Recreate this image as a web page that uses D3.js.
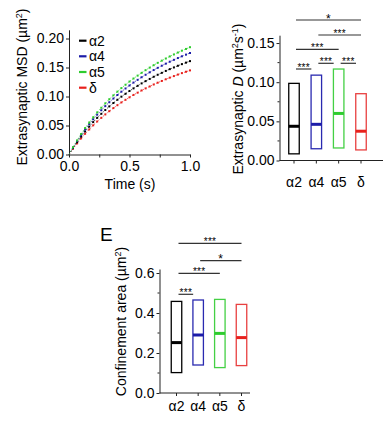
<!DOCTYPE html>
<html>
<head>
<meta charset="utf-8">
<script src="https://cdn.jsdelivr.net/npm/d3@7"></script>
<style>
  html, body { margin: 0; padding: 0; background: #fff; }
  svg { display: block; }
  text { font-family: "Liberation Sans", Arial, sans-serif; fill: #000; }
</style>
</head>
<body>
<script>
// ---------- DATA ----------
const seriesNames = ["α2", "α4", "α5", "δ"];
const seriesColors = ["#000000", "#1c1ca8", "#2ecc2e", "#e8201c"];
const boxColors = ["#000000", "#2a2ab0", "#44d044", "#e84040"];

const timeLags = [0, 0.033, 0.067, 0.1, 0.133, 0.167, 0.2, 0.233, 0.267, 0.3, 0.333,
  0.367, 0.4, 0.433, 0.467, 0.5, 0.533, 0.567, 0.6, 0.633, 0.667,
  0.7, 0.733, 0.767, 0.8, 0.833, 0.867, 0.9, 0.933, 0.967, 1.0];

const msdA2 = [0, .011, .0212, .0308, .0397, .048, .0559, .0632, .0702, .0767, .0829,
  .0888, .0944, .0997, .1047, .1095, .114, .1184, .1226, .1265, .1303,
  .134, .1375, .1408, .1441, .1472, .1501, .153, .1558, .1584, .161];
const msdA4 = [0, .012, .0231, .0334, .0431, .0522, .0607, .0687, .0763, .0834, .0901,
  .0965, .1026, .1083, .1138, .119, .124, .1287, .1332, .1375, .1417,
  .1456, .1494, .1531, .1566, .16, .1632, .1663, .1693, .1722, .175];
const msdA5 = [0, .0126, .0244, .0353, .0456, .0552, .0642, .0726, .0806, .0882, .0953,
  .102, .1084, .1145, .1203, .1258, .131, .136, .1408, .1454, .1498,
  .154, .158, .1618, .1655, .1691, .1725, .1758, .179, .182, .185];
const msdD = [0, .0099, .0191, .0277, .0357, .0432, .0503, .0569, .0632, .0691, .0747,
  .08, .085, .0898, .0943, .0986, .1027, .1066, .1104, .114, .1173,
  .1207, .1238, .1268, .1297, .1325, .1352, .1378, .1403, .1427, .145];

const msdTicksY = [0, 0.05, 0.10, 0.15, 0.20];
const msdTicksX = [0, 0.5, 1.0];

// Extrasynaptic D (µm²/s): floating bars min–max with median
const dMin = [0.0085, 0.0150, 0.0160, 0.0135];
const dMax = [0.0985, 0.1090, 0.1168, 0.0853];
const dMedian = [0.0437, 0.0462, 0.0601, 0.0374];
const dTicks = [0, 0.05, 0.10, 0.15];
const dSig = [
  { from: 0, to: 1, label: "***" },
  { from: 1, to: 2, label: "***" },
  { from: 2, to: 3, label: "***" },
  { from: 0, to: 2, label: "***" },
  { from: 1, to: 3, label: "***" },
  { from: 0, to: 3, label: "*" }
];

// Confinement area (µm²)
const areaMin = [0.102, 0.140, 0.127, 0.137];
const areaMax = [0.458, 0.465, 0.468, 0.443];
const areaMedian = [0.252, 0.290, 0.298, 0.277];
const areaTicks = [0, 0.2, 0.4, 0.6];
const areaSig = [
  { from: 0, to: 1, label: "***" },
  { from: 0, to: 2, label: "***" },
  { from: 1, to: 3, label: "*" },
  { from: 0, to: 3, label: "***" }
];

// ---------- DRAW ----------
const W = 392, H = 428;
const svg = d3.select("body").append("svg").attr("width", W).attr("height", H);
svg.append("rect").attr("width", W).attr("height", H).attr("fill", "#fff");

const FS = 14;
const axisColor = "#222";

function styleAxis(g) {
  g.selectAll("path.domain").attr("stroke", axisColor).attr("stroke-width", 1);
  g.selectAll(".tick line").attr("stroke", axisColor);
  g.selectAll(".tick text").attr("font-size", FS).attr("font-family", '"Liberation Sans", Arial, sans-serif').attr("fill", "#000");
}

// ===== Panel: MSD =====
(function () {
  const x = d3.scaleLinear().domain([0, 1]).range([69, 190]);
  const y = d3.scaleLinear().domain([0, 0.215]).range([154.5, 29.8]);

  const gy = svg.append("g").attr("transform", `translate(${x(0)},0)`)
    .call(d3.axisLeft(y).tickValues(msdTicksY).tickSize(3).tickPadding(2)
      .tickFormat(d3.format(".2f")).tickSizeOuter(0));
  styleAxis(gy);

  const gx = svg.append("g").attr("transform", `translate(0,${y(0)})`)
    .call(d3.axisBottom(x).tickValues([0, 0.25, 0.5, 0.75, 1]).tickSize(3).tickPadding(4)
      .tickFormat(d => msdTicksX.includes(d) ? d3.format(".1f")(d) : "").tickSizeOuter(0));
  styleAxis(gx);

  const all = [msdA2, msdA4, msdA5, msdD];
  const order = [3, 0, 1, 2];
  order.forEach(i => {
    const pts = timeLags.map((t, k) => [t, all[i][k]]);
    svg.append("path")
      .attr("d", d3.line().x(d => x(d[0])).y(d => y(d[1]))(pts))
      .attr("fill", "none").attr("stroke", seriesColors[i]).attr("stroke-width", 0.7)
      .attr("stroke-dasharray", "1.5,1.5");
    svg.append("g").selectAll("rect").data(pts.slice(1)).join("rect")
      .attr("x", d => x(d[0]) - 1).attr("y", d => y(d[1]) - 1)
      .attr("width", 2).attr("height", 2).attr("fill", seriesColors[i]);
  });

  // legend
  const rowY = [40.7, 56.3, 72, 87.7];
  seriesNames.forEach((n, i) => {
    svg.append("line").attr("x1", 79).attr("x2", 86.5).attr("y1", rowY[i]).attr("y2", rowY[i])
      .attr("stroke", seriesColors[i]).attr("stroke-width", 2.2);
    svg.append("text").attr("x", 89).attr("y", rowY[i] + 5).attr("font-size", FS).text(n);
  });

  svg.append("text").attr("x", 130).attr("y", 189).attr("text-anchor", "middle")
    .attr("font-size", FS).text("Time (s)");

  const yl = svg.append("text").attr("transform", "translate(26.5,87) rotate(-90)")
    .attr("text-anchor", "middle").attr("font-size", FS);
  yl.append("tspan").text("Extrasynaptic MSD (µm");
  yl.append("tspan").attr("font-size", 9).attr("dy", -5).text("2");
  yl.append("tspan").attr("dy", 5).text(")");
})();

// ===== Box panel helper =====
function boxPanel(opts) {
  const { x, y, mins, maxs, meds, ticks, fmt, minor, sig, sigLevels, boxW, axisRight, labelOffset } = opts;
  const x0 = opts.axisX;
  const gy = svg.append("g").attr("transform", `translate(${x0},0)`)
    .call(d3.axisLeft(y).tickValues(ticks).tickSize(3).tickPadding(2)
      .tickFormat(fmt).tickSizeOuter(0));
  styleAxis(gy);
  // minor ticks
  svg.append("g").selectAll("line").data(minor).join("line")
    .attr("x1", x0 - 2).attr("x2", x0).attr("y1", d => y(d)).attr("y2", d => y(d))
    .attr("stroke", axisColor).attr("stroke-width", 1);

  // x axis
  const gx = svg.append("g").attr("transform", `translate(0,${y(0)})`);
  gx.append("line").attr("x1", x0).attr("x2", axisRight).attr("stroke", axisColor);
  seriesNames.forEach((n, i) => {
    gx.append("line").attr("x1", x(n)).attr("x2", x(n)).attr("y1", 0).attr("y2", 3)
      .attr("stroke", axisColor);
    gx.append("text").attr("x", x(n)).attr("y", labelOffset).attr("text-anchor", "middle")
      .attr("font-size", FS).text(n);
  });

  seriesNames.forEach((n, i) => {
    const cx = x(n);
    svg.append("rect").attr("x", cx - boxW / 2).attr("y", y(maxs[i]))
      .attr("width", boxW).attr("height", y(mins[i]) - y(maxs[i]))
      .attr("fill", "none").attr("stroke", boxColors[i]).attr("stroke-width", 1.3);
    svg.append("line").attr("x1", cx - boxW / 2).attr("x2", cx + boxW / 2)
      .attr("y1", y(meds[i])).attr("y2", y(meds[i]))
      .attr("stroke", seriesColors[i]).attr("stroke-width", 3);
  });

  sig.forEach((s, k) => {
    const ly = sigLevels[k];
    const xa = x(seriesNames[s.from]) + 2;
    const xb = x(seriesNames[s.to]) - (s.to - s.from === 1 ? 5 : 0);
    svg.append("line").attr("x1", xa).attr("x2", xb).attr("y1", ly).attr("y2", ly)
      .attr("stroke", "#333").attr("stroke-width", 1.2);
    svg.append("text").attr("x", (xa + xb) / 2).attr("y", ly + (s.label === "*" ? 2.5 : 1.5))
      .attr("text-anchor", "middle").attr("font-size", s.label === "*" ? 12 : 10)
      .attr("fill", "#222").attr("letter-spacing", 0.3).text(s.label);
  });
}

// ===== Panel: Extrasynaptic D =====
(function () {
  const x = d3.scalePoint().domain(seriesNames).range([294, 361]);
  const y = d3.scaleLinear().domain([0, 0.16]).range([160.5, 35.2]);
  boxPanel({
    x, y, mins: dMin, maxs: dMax, meds: dMedian, ticks: dTicks,
    fmt: d3.format(".2f"), minor: [0.025, 0.075, 0.125],
    sig: dSig, sigLevels: [69, 63.3, 63.3, 49.3, 35, 20],
    boxW: 10.5, axisX: 279.5, axisRight: 383, labelOffset: 26
  });
  const yl = svg.append("text").attr("transform", "translate(243,99) rotate(-90)")
    .attr("text-anchor", "middle").attr("font-size", FS);
  yl.append("tspan").text("Extrasynaptic ");
  yl.append("tspan").attr("font-style", "italic").text("D");
  yl.append("tspan").text(" (µm");
  yl.append("tspan").attr("font-size", 9).attr("dy", -5).text("2");
  yl.append("tspan").attr("dy", 5).text("s");
  yl.append("tspan").attr("font-size", 9).attr("dy", -5).text("-1");
  yl.append("tspan").attr("dy", 5).text(")");
})();

// ===== Panel E: Confinement area =====
(function () {
  const x = d3.scalePoint().domain(seriesNames).range([176.5, 241.5]);
  const y = d3.scaleLinear().domain([0, 0.62]).range([393, 269]);
  boxPanel({
    x, y, mins: areaMin, maxs: areaMax, meds: areaMedian, ticks: areaTicks,
    fmt: d3.format(".1f"), minor: [0.1, 0.3, 0.5],
    sig: areaSig, sigLevels: [294.3, 273.3, 260.7, 243.3],
    boxW: 10.5, axisX: 159.5, axisRight: 250, labelOffset: 18
  });
  const yl = svg.append("text").attr("transform", "translate(125.5,321.5) rotate(-90)")
    .attr("text-anchor", "middle").attr("font-size", FS);
  yl.append("tspan").text("Confinement area (µm");
  yl.append("tspan").attr("font-size", 9).attr("dy", -5).text("2");
  yl.append("tspan").attr("dy", 5).text(")");

  svg.append("text").attr("x", 100).attr("y", 240.7).attr("font-size", 19).text("E");
})();
</script>
</body>
</html>
